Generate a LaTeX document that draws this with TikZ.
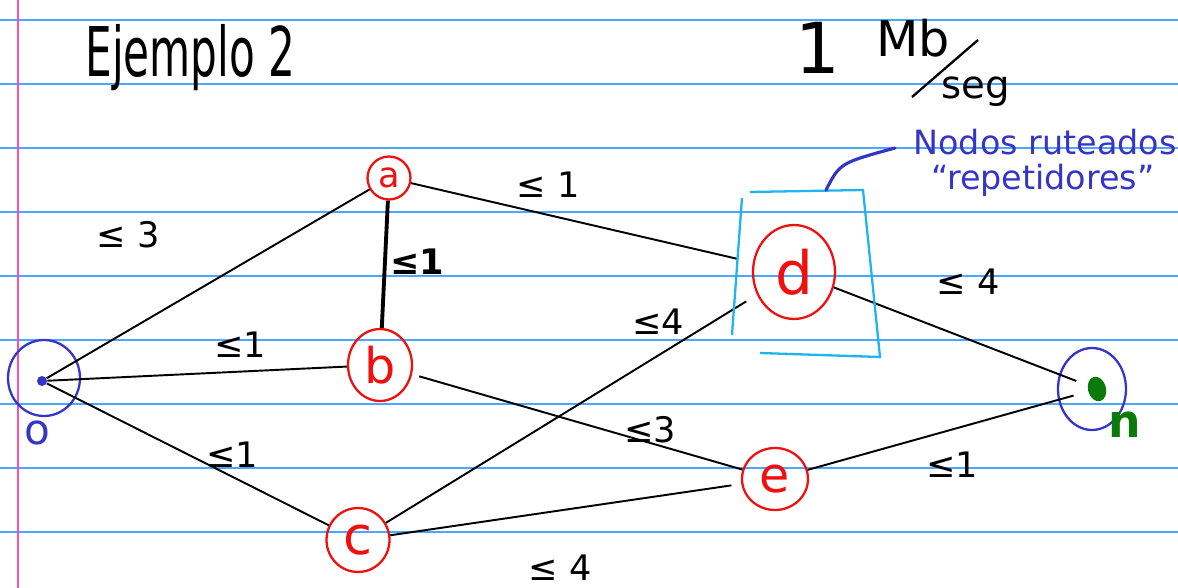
\documentclass[tikz,border=0pt]{standalone}
\usepackage{fontspec}
\setmainfont{DejaVu Sans}
\usetikzlibrary{shapes.geometric}
\definecolor{rulec}{HTML}{4DA6FF}
\definecolor{marginc}{HTML}{FF4FA8}
\definecolor{nred}{HTML}{F01010}
\definecolor{nblue}{HTML}{3535C8}
\definecolor{ncyan}{HTML}{1EB4F0}
\definecolor{ngreen}{HTML}{0A7A0A}
\begin{document}
\begin{tikzpicture}[x=0.02cm,y=-0.02cm,
  rnode/.style={draw=nred,line width=1.3pt,ellipse,inner sep=0pt,text=nred},
  bnode/.style={draw=nblue,line width=1.3pt,ellipse,inner sep=0pt},
  edge/.style={line width=1.1pt,black},
  lbl/.style={font=\fontsize{20}{24}\selectfont,inner sep=0pt},
  ruleline/.style={rulec,line width=1.1pt}]
\useasboundingbox (0,0) rectangle (1178,588);
\fill[white] (0,0) rectangle (1178,588);
% ruled paper
\foreach \y in {20,84,148,212,276,340,404,468,532} \draw[ruleline] (0,\y) -- (1178,\y);
\draw[marginc,line width=1.1pt] (18,0) -- (18,588);

% title and rate
\node[font=\fontsize{30}{36}\selectfont,anchor=base west,inner sep=0pt] (title) at (85,77) {\scalebox{0.8}[1.3]{Ejemplo 2}};
\node[font=\fontsize{40}{44}\selectfont,inner sep=0pt] (one) at (818,48) {1};
\node[font=\fontsize{28}{32}\selectfont,inner sep=0pt] (mb) at (913,38) {Mb};
\node[font=\fontsize{22}{26}\selectfont,inner sep=0pt] (seg) at (976,92) {seg};
\draw[line width=1.3pt] (912,97) -- (978,40);

% nodes
\node[bnode,minimum width=1.44cm,minimum height=1.52cm] (ocirc) at (44,378) {};
\node[circle,fill=nblue,minimum size=0.2cm,inner sep=0pt] (odot) at (42,381) {};
\node[text=nblue,font=\fontsize{24}{28}\selectfont,inner sep=0pt] (olbl) at (37,433) {o};
\node[rnode,minimum width=0.86cm,minimum height=0.86cm,font=\fontsize{20}{20}\selectfont] (a) at (389,178) {a};
\node[rnode,minimum width=1.28cm,minimum height=1.44cm,font=\fontsize{28}{28}\selectfont] (b) at (380,365) {b};
\node[rnode,minimum width=1.26cm,minimum height=1.28cm,font=\fontsize{30}{30}\selectfont] (c) at (358,540) {c};
\node[rnode,minimum width=1.64cm,minimum height=1.88cm,font=\fontsize{34}{34}\selectfont] (d) at (794,272) {d};
\node[rnode,minimum width=1.32cm,minimum height=1.24cm,font=\fontsize{28}{28}\selectfont] (e) at (775,479) {e};
\node[bnode,minimum width=1.36cm,minimum height=1.64cm] (ncirc) at (1092,389) {};
\node[ellipse,fill=ngreen,minimum width=0.36cm,minimum height=0.5cm,inner sep=0pt,rotate=15] (ndot) at (1097,389) {};
\node[text=ngreen,font=\bfseries\fontsize{26}{28}\selectfont,inner sep=0pt] (nlbl) at (1125,425) {n};

% edges
\draw[edge] (odot) -- (a);
\draw[edge] (odot) -- (b);
\draw[edge] (odot) -- (c);
\draw[edge,line width=2.2pt] (a) -- (b);
\draw[edge,shorten >=0.3cm] (a) -- (d);
\draw[edge,shorten <=0.15cm] (b) -- (e);
\draw[edge,shorten >=0.25cm] (c) -- (d);
\draw[edge,shorten >=0.2cm] (c) -- (e);
\draw[edge,shorten >=0.24cm] (d) -- (ndot);
\draw[edge,shorten >=0.3cm] (e) -- (ndot);

% edge labels
\node[lbl] (l1) at (128,235) {≤ 3};
\node[lbl] (l2) at (240,345) {≤1};
\node[lbl] (l3) at (232,455) {≤1};
\node[lbl,font=\bfseries\fontsize{20}{24}\selectfont] (l4) at (417,262) {≤1};
\node[lbl] (l5) at (548,185) {≤ 1};
\node[lbl] (l6) at (658,322) {≤4};
\node[lbl] (l7) at (650,430) {≤3};
\node[lbl] (l8) at (560,568) {≤ 4};
\node[lbl] (l9) at (968,282) {≤ 4};
\node[lbl] (l10) at (952,465) {≤1};

% highlight box and note
\draw[ncyan,line width=1.3pt] (742,198) -- (732,335);
\draw[ncyan,line width=1.3pt] (750,192) -- (863,190) -- (880,357) -- (760,353);
\draw[nblue,line width=1.8pt,line cap=round] (826,190) .. controls (840,163) .. (895,148);
\node[text=nblue,font=\fontsize{19}{22}\selectfont,inner sep=0pt] (note1) at (1045,142) {Nodos ruteados};
\node[text=nblue,font=\fontsize{19}{22}\selectfont,inner sep=0pt] (note2) at (1043,180) {“repetidores”};
\end{tikzpicture}
\end{document}
